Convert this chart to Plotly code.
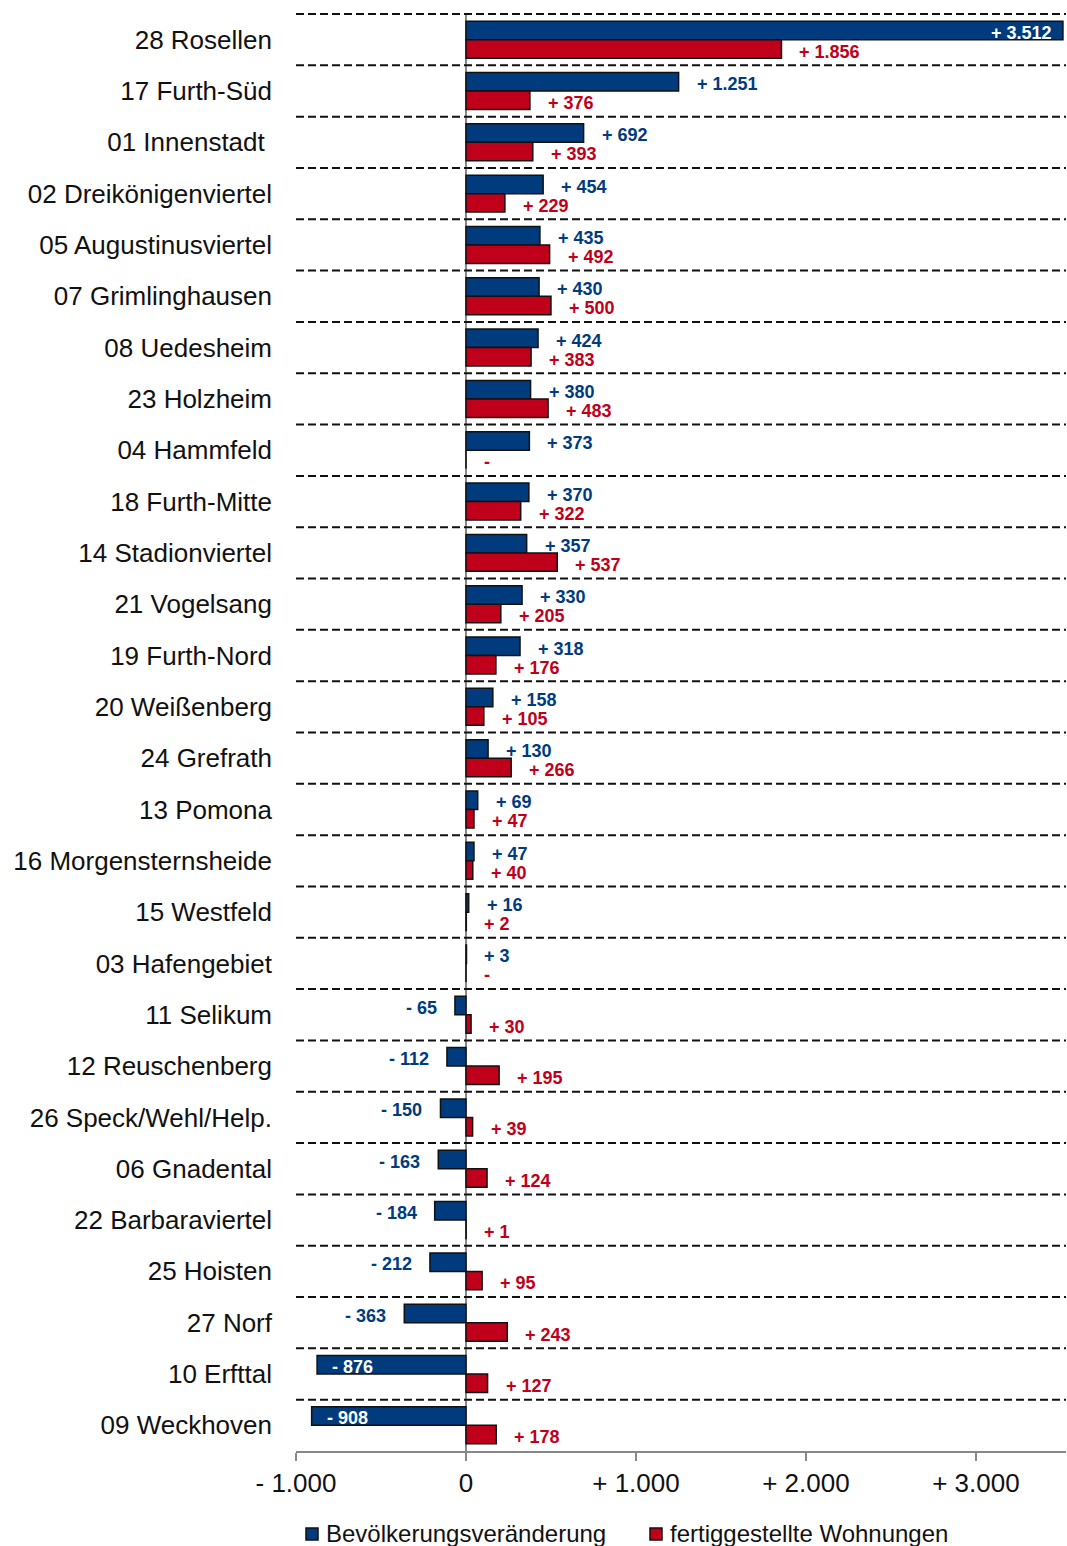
import plotly.graph_objects as go

categories = ["28 Rosellen", "17 Furth-Süd", "01 Innenstadt\u00a0", "02 Dreikönigenviertel",
              "05 Augustinusviertel", "07 Grimlinghausen", "08 Uedesheim", "23 Holzheim",
              "04 Hammfeld", "18 Furth-Mitte", "14 Stadionviertel", "21 Vogelsang",
              "19 Furth-Nord", "20 Weißenberg", "24 Grefrath", "13 Pomona",
              "16 Morgensternsheide", "15 Westfeld", "03 Hafengebiet", "11 Selikum",
              "12 Reuschenberg", "26 Speck/Wehl/Help.", "06 Gnadental", "22 Barbaraviertel",
              "25 Hoisten", "27 Norf", "10 Erfttal", "09 Weckhoven"]
bevoelkerung = [3512, 1251, 692, 454, 435, 430, 424, 380, 373, 370, 357, 330, 318, 158,
                130, 69, 47, 16, 3, -65, -112, -150, -163, -184, -212, -363, -876, -908]
wohnungen = [1856, 376, 393, 229, 492, 500, 383, 483, 0, 322, 537, 205, 176, 105,
             266, 47, 40, 2, 0, 30, 195, 39, 124, 1, 95, 243, 127, 178]
series_names = ["Bevölkerungsveränderung", "fertiggestellte Wohnungen"]
tick_vals = [-1000, 0, 1000, 2000, 3000]
tick_text = ["- 1.000", "0", "+ 1.000", "+ 2.000", "+ 3.000"]

BLUE = "#003B7E"
RED = "#C0001A"
FONT = "Liberation Sans, Arial, sans-serif"


def fmt(v):
    if v == 0:
        return "-"
    s = f"{abs(v):,}".replace(",", ".")
    return ("+ " if v > 0 else "- ") + s


fig = go.Figure()
fig.add_trace(go.Bar(y=categories, x=bevoelkerung, orientation="h", name=series_names[0],
                     marker=dict(color=BLUE, line=dict(color="#111", width=1.5))))
fig.add_trace(go.Bar(y=categories, x=wohnungen, orientation="h", name=series_names[1],
                     marker=dict(color=RED, line=dict(color="#111", width=1.5))))

annotations = []
for cat, v in zip(categories, bevoelkerung):
    if v >= 3000:
        pos = dict(xanchor="right", xshift=-9, color="white")
    elif v <= -500:
        pos = dict(xanchor="left", xshift=13, color="white")
    elif v >= 0:
        pos = dict(xanchor="left", xshift=16, color=BLUE)
    else:
        pos = dict(xanchor="right", xshift=-16, color=BLUE)
    annotations.append(dict(x=v, y=cat, xanchor=pos["xanchor"], xshift=pos["xshift"], yshift=7,
                            text=fmt(v), showarrow=False,
                            font=dict(family=FONT, size=18, color=pos["color"], weight="bold")))
for cat, v in zip(categories, wohnungen):
    annotations.append(dict(x=v, y=cat, xanchor="left", xshift=16, yshift=-12, text=fmt(v),
                            showarrow=False,
                            font=dict(family=FONT, size=18, color=RED, weight="bold")))

shapes = []
for i in range(len(categories)):
    shapes.append(dict(type="line", xref="paper", x0=0, x1=1, yref="y", y0=i - 0.5, y1=i - 0.5,
                       line=dict(color="#111", width=2, dash="8px,4px"), layer="above"))

# custom legend (pixel offsets from plot-area bottom-left corner)
legend_items = [(series_names[0], BLUE, 10), (series_names[1], RED, 354)]
for name, col, off in legend_items:
    shapes.append(dict(type="rect", xref="paper", yref="paper", xsizemode="pixel",
                       ysizemode="pixel", xanchor=0, yanchor=0, x0=off, x1=off + 12,
                       y0=-77, y1=-89, fillcolor=col, line=dict(color="#111", width=1.5)))
    annotations.append(dict(xref="paper", yref="paper", x=0, y=0, xshift=off + 18, yshift=-82,
                            xanchor="left", yanchor="middle", text=name, showarrow=False,
                            font=dict(family=FONT, size=24, color="#111")))

fig.update_layout(
    width=1067, height=1546,
    margin=dict(l=296, r=1, t=13, b=95, autoexpand=False),
    paper_bgcolor="white", plot_bgcolor="white",
    barmode="group", bargap=0.28, bargroupgap=0,
    font=dict(family=FONT, size=26, color="#111"),
    showlegend=False,
    annotations=annotations, shapes=shapes,
    xaxis=dict(range=[-1000, 3530], tickvals=tick_vals, ticktext=tick_text,
               showgrid=False, zeroline=True, zerolinecolor="#888", zerolinewidth=1.5,
               showline=True, linecolor="#888", linewidth=1.5,
               ticks="outside", ticklen=8, tickcolor="#888", tickwidth=1.5,
               tickfont=dict(size=26, color="#111")),
    yaxis=dict(autorange="reversed", showgrid=False, ticks="", ticklabelstandoff=23,
               tickfont=dict(size=26, color="#111")),
)

fig.write_html("out.html", config={"displayModeBar": False},
               post_script="document.body.style.margin='0';document.body.style.overflow='hidden';")
